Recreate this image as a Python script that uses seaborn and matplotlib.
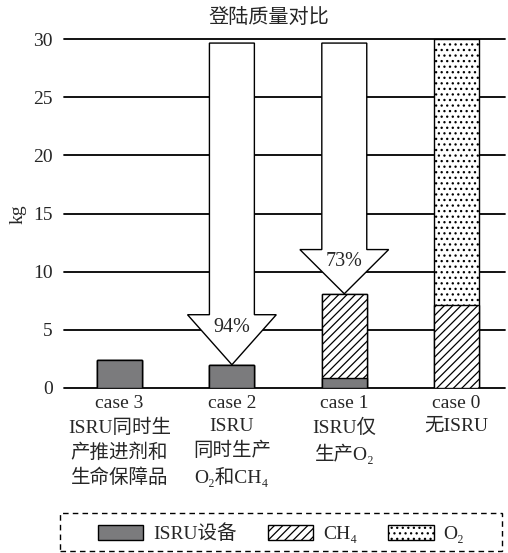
import matplotlib
matplotlib.use("Agg")
import matplotlib.pyplot as plt
from matplotlib.patches import Patch, Rectangle
import seaborn as sns
import pandas as pd

# Landing mass breakdown per case (kg)
cases = ["case 3", "case 2", "case 1", "case 0"]
isru_equipment = [2.4, 2.0, 0.9, 0.0]
ch4_mass = [0.0, 0.0, 7.2, 7.1]
o2_mass = [0.0, 0.0, 0.0, 22.9]
tick_labels = [
    "case 3\nISRU同时生\n产推进剂和\n生命保障品",
    "case 2\nISRU\n同时生产\nO\u2082和CH\u2084",
    "case 1\nISRU仅\n生产O\u2082",
    "case 0\n无ISRU",
]
# Reduction arrows: (case index, label)
arrow_cases = [1, 2]
arrow_labels = ["94%", "73%"]
arrow_top = 29.65
y_ticks = [0, 5, 10, 15, 20, 25, 30]

sns.set_theme(style="white")
plt.rcParams["font.family"] = ["Liberation Serif", "Noto Sans CJK SC", "DejaVu Serif"]
plt.rcParams["hatch.color"] = "black"
plt.rcParams["hatch.linewidth"] = 0.9

df = pd.DataFrame({
    "case": cases,
    "isru": isru_equipment,
    "ch4": ch4_mass,
    "o2": o2_mass,
})
df["isru_ch4"] = df["isru"] + df["ch4"]
df["total"] = df["isru_ch4"] + df["o2"]

fig = plt.figure(figsize=(5.08, 5.53), dpi=100)
ax = fig.add_axes([64 / 508, 1 - 388 / 553, 441 / 508, 349 / 553])

gray = "#7b7b7d"
bar_kw = dict(width=0.4, saturation=1, edgecolor="black", linewidth=1.0, ax=ax, order=cases)
# Stacked layers drawn from the top of the stack down
sns.barplot(data=df, x="case", y="total", color="white", hatch="...", zorder=2, **bar_kw)
sns.barplot(data=df, x="case", y="isru_ch4", color="white", hatch="////", zorder=2.1, **bar_kw)
sns.barplot(data=df, x="case", y="isru", color=gray, zorder=2.2, **bar_kw)

# Hide zero-height bars' outlines
for p in ax.patches:
    if p.get_height() <= 0:
        p.set_visible(False)

# Reduction arrows pointing down to the bar tops
head_lengths = {1: 4.3, 2: 3.8}
for idx, lab in zip(arrow_cases, arrow_labels):
    tip = df["total"].iloc[idx]
    hl = head_lengths[idx]
    ax.arrow(idx, arrow_top, 0, tip - arrow_top, width=0.4, head_width=0.79,
             head_length=hl, length_includes_head=True, facecolor="white",
             edgecolor="black", linewidth=1.0, zorder=4)
    ax.text(idx, tip + hl * 0.74, lab, ha="center", va="center",
            fontsize=14.5, zorder=5)

ax.set_xlim(-0.494, 3.43)
ax.set_ylim(0, 30)
ax.set_yticks(y_ticks)
ax.set_yticklabels([str(v) for v in y_ticks], fontsize=14)
ax.set_xticks(range(len(cases)))
ax.set_xticklabels(tick_labels, fontsize=14, linespacing=1.45, va="top")
ax.tick_params(axis="y", length=0, pad=8)
ax.tick_params(axis="x", length=0, pad=5)
ax.set_xlabel("")
ax.set_ylabel("")
for s in ax.spines.values():
    s.set_visible(False)
ax.yaxis.grid(True, color="black", linewidth=1.3, zorder=0)
ax.xaxis.grid(False)
ax.set_axisbelow(True)
for gl in ax.get_ygridlines():
    gl.set_clip_on(False)

fig.text(18 / 508, 1 - 214 / 553, "kg", rotation=90, ha="center", va="center", fontsize=14)
fig.text(269 / 508, 1 - 18 / 553, "登陆质量对比", ha="center", va="center", fontsize=14.5)

# Legend inside a dashed box
handles = [
    Patch(facecolor=gray, edgecolor="black", linewidth=1.0, label="ISRU设备"),
    Patch(facecolor="white", edgecolor="black", linewidth=1.0, hatch="////", label="CH\u2084"),
    Patch(facecolor="white", edgecolor="black", linewidth=1.0, hatch="...", label="O\u2082"),
]
fig.legend(handles=handles, loc="center", bbox_to_anchor=(281 / 508, 1 - 534 / 553),
           ncol=3, frameon=False, fontsize=14, handlelength=2.35, handleheight=0.8,
           handletextpad=0.5, columnspacing=1.6)
fig.patches.append(Rectangle((60 / 508, 1 - 551 / 553), 442 / 508, 38 / 553,
                             transform=fig.transFigure, fill=False, edgecolor="black",
                             linewidth=1.0, linestyle=(0, (4, 3))))

fig.savefig("out.png", dpi=100)
